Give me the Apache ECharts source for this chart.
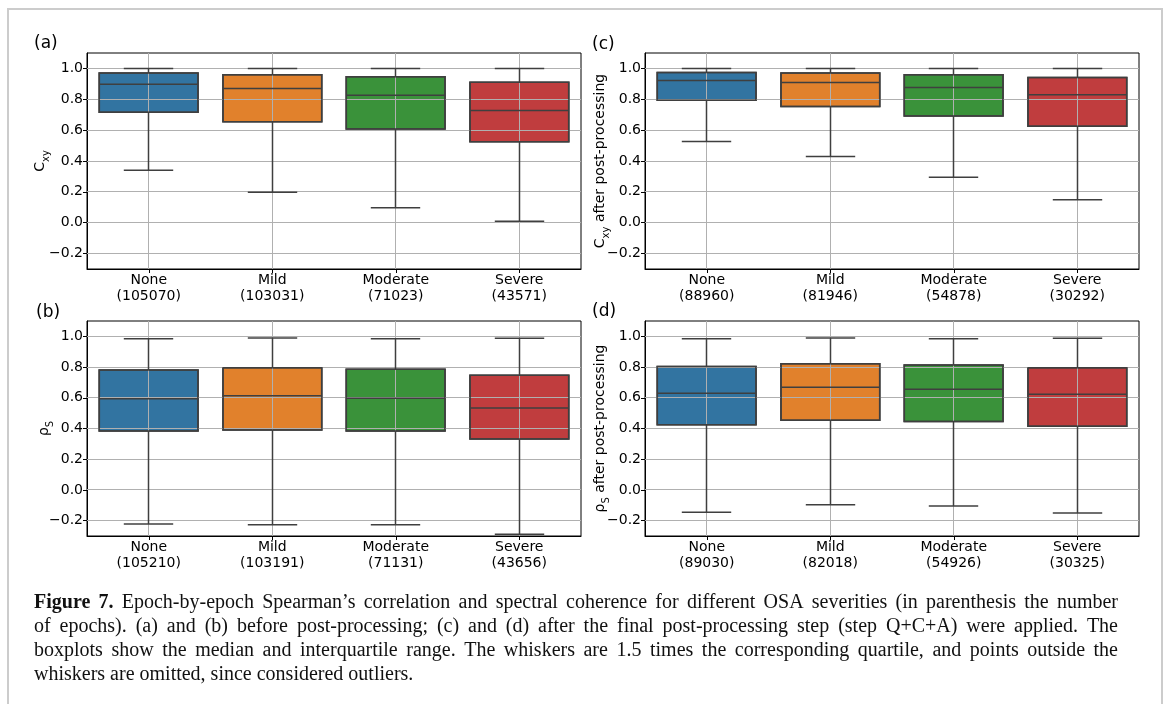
<!DOCTYPE html>
<html>
<head>
<meta charset="utf-8">
<title>Epoch-by-epoch correlation and coherence by OSA severity</title>
<script src="https://cdn.jsdelivr.net/npm/echarts@6/dist/echarts.min.js"></script>
<style>
  html, body { margin: 0; padding: 0; background: #fff; }
  #chart { width: 1167px; height: 704px; }
</style>
</head>
<body>
<div id="chart"></div>
<script>
// OSA severity groups
const categories = ['None', 'Mild', 'Moderate', 'Severe'];

// number of epochs per group
const countsA = [105070, 103031, 71023, 43571];
const countsB = [105210, 103191, 71131, 43656];
const countsC = [88960, 81946, 54878, 30292];
const countsD = [89030, 82018, 54926, 30325];

// box statistics per group: [lower whisker, Q1, median, Q3, upper whisker]
const cohBefore = [
  [0.340, 0.716, 0.898, 0.970, 1.000],
  [0.197, 0.655, 0.870, 0.959, 1.000],
  [0.097, 0.607, 0.826, 0.946, 1.000],
  [0.010, 0.525, 0.727, 0.911, 1.000]
];
const rhoBefore = [
  [-0.222, 0.383, 0.593, 0.781, 0.985],
  [-0.226, 0.391, 0.614, 0.796, 0.989],
  [-0.226, 0.383, 0.597, 0.786, 0.985],
  [-0.289, 0.331, 0.534, 0.747, 0.987]
];
const cohAfter = [
  [0.527, 0.794, 0.922, 0.974, 1.000],
  [0.429, 0.753, 0.909, 0.970, 1.000],
  [0.295, 0.692, 0.876, 0.959, 1.000],
  [0.149, 0.625, 0.829, 0.941, 1.000]
];
const rhoAfter = [
  [-0.146, 0.424, 0.630, 0.803, 0.985],
  [-0.096, 0.454, 0.669, 0.822, 0.989],
  [-0.105, 0.446, 0.656, 0.814, 0.985],
  [-0.150, 0.415, 0.623, 0.796, 0.987]
];

// shared value axis
const yMin = -0.3;
const yMax = 1.1;
const yTicks = [-0.2, 0.0, 0.2, 0.4, 0.6, 0.8, 1.0];

const boxColors = ['#3274a1', '#e1812c', '#3a923a', '#c03d3e'];
const edgeColor = '#3f3f3f';
const gridColor = '#b0b0b0';
const fontSans = 'DejaVu Sans';

const sub = { fontSize: 10, fontFamily: fontSans, color: '#000', lineHeight: 10, verticalAlign: 'bottom' };
const main = { fontSize: 14, fontFamily: fontSans, color: '#000', lineHeight: 22, verticalAlign: 'middle' };

const panels = [
  { tag: '(a)', tagPos: [34, 44], stats: cohBefore, counts: countsA,
    grid: { left: 87, top: 53, width: 494, height: 216 }, name: '{m|C}{s|xy}', nameGap: 36 },
  { tag: '(b)', tagPos: [36, 313], stats: rhoBefore, counts: countsB,
    grid: { left: 87, top: 321, width: 494, height: 215 }, name: '{m|ρ}{s|S}', nameGap: 32 },
  { tag: '(c)', tagPos: [592, 45], stats: cohAfter, counts: countsC,
    grid: { left: 645, top: 53, width: 494, height: 216 }, name: '{m|C}{s|xy}{m| after post-processing}', nameGap: 34 },
  { tag: '(d)', tagPos: [592, 312], stats: rhoAfter, counts: countsD,
    grid: { left: 645, top: 321, width: 494, height: 215 }, name: '{m|ρ}{s|S}{m| after post-processing}', nameGap: 34 }
];

const crisp = v => Math.round(v - 0.5) + 0.5;

// filled boxes (drawn beneath the grid lines)
function renderBox(params, api) {
  const i = api.value(0);
  const band = api.size([1, 0])[0];
  const w = band * 0.8;
  const cx = api.coord([i, api.value(3)])[0];
  const yQ3 = api.coord([i, api.value(4)])[1];
  const yQ1 = api.coord([i, api.value(2)])[1];
  return {
    type: 'rect',
    shape: { x: cx - w / 2, y: yQ3, width: w, height: yQ1 - yQ3 },
    style: { fill: boxColors[i], stroke: edgeColor, lineWidth: 1.5 }
  };
}

// whiskers, caps, median line and box outline (drawn above the grid lines)
function renderLines(params, api) {
  const i = api.value(0);
  const band = api.size([1, 0])[0];
  const w = band * 0.8;
  const cap = w / 2;
  const cx = crisp(api.coord([i, 0])[0]);
  const yLow = api.coord([i, api.value(1)])[1];
  const yQ1 = api.coord([i, api.value(2)])[1];
  const yMed = api.coord([i, api.value(3)])[1];
  const yQ3 = api.coord([i, api.value(4)])[1];
  const yHigh = api.coord([i, api.value(5)])[1];
  const st = { stroke: edgeColor, lineWidth: 1.5, fill: null };
  const seg = (x1, y1, x2, y2) => ({ type: 'line', shape: { x1, y1, x2, y2 }, style: st });
  return {
    type: 'group',
    children: [
      seg(cx, yQ3, cx, yHigh),
      seg(cx, yQ1, cx, yLow),
      seg(cx - cap / 2, yHigh, cx + cap / 2, yHigh),
      seg(cx - cap / 2, yLow, cx + cap / 2, yLow),
      seg(cx - w / 2, yMed, cx + w / 2, yMed),
      { type: 'rect', shape: { x: cx - w / 2, y: yQ3, width: w, height: yQ1 - yQ3 }, style: st }
    ]
  };
}

function renderHGrid(params, api) {
  const cs = params.coordSys;
  const y = crisp(api.coord([0, api.value(1)])[1]);
  return { type: 'line', shape: { x1: cs.x, y1: y, x2: cs.x + cs.width, y2: y },
           style: { stroke: gridColor, lineWidth: 1 } };
}

function renderVGrid(params, api) {
  const cs = params.coordSys;
  const x = crisp(api.coord([api.value(0), 0])[0]);
  return { type: 'line', shape: { x1: x, y1: cs.y, x2: x, y2: cs.y + cs.height },
           style: { stroke: gridColor, lineWidth: 1 } };
}

const fmtTick = v => (v < -1e-9 ? '\u2212' : '') + Math.abs(v).toFixed(1);

const grid = [], xAxis = [], yAxis = [], series = [];
panels.forEach((p, k) => {
  grid.push(Object.assign({ show: true, borderColor: '#000', borderWidth: 1, backgroundColor: '#fff' }, p.grid));
  xAxis.push({
    type: 'category', gridIndex: k, data: categories, boundaryGap: true,
    axisLine: { show: true, onZero: false, lineStyle: { color: '#000', width: 1 } },
    axisTick: { show: true, alignWithLabel: true, length: 4, lineStyle: { color: '#000' } },
    axisLabel: {
      interval: 0, margin: 3, fontSize: 14, fontFamily: fontSans, color: '#000', lineHeight: 16,
      formatter: (v, idx) => v + '\n(' + p.counts[idx] + ')'
    },
    splitLine: { show: false }
  });
  yAxis.push({
    type: 'value', gridIndex: k, min: yMin, max: yMax,
    axisLine: { show: true, onZero: false, lineStyle: { color: '#000', width: 1 } },
    axisTick: { show: true, length: 4, customValues: yTicks, lineStyle: { color: '#000' } },
    axisLabel: { customValues: yTicks, margin: 4, fontSize: 14, fontFamily: fontSans, color: '#000', formatter: fmtTick },
    splitLine: { show: false },
    name: p.name, nameLocation: 'middle', nameGap: p.nameGap, nameRotate: 90, nameMoveOverlap: false,
    nameTextStyle: { rich: { m: main, s: sub } }
  });
  const rows = p.stats.map((s, i) => [i].concat(s));
  series.push({
    type: 'custom', xAxisIndex: k, yAxisIndex: k, z: 2, silent: true,
    renderItem: renderBox, encode: { x: 0, y: [1, 2, 3, 4, 5] }, data: rows
  });
  series.push({
    type: 'custom', xAxisIndex: k, yAxisIndex: k, z: 3, silent: true,
    renderItem: renderHGrid, encode: { x: 0, y: 1 }, data: yTicks.map(v => [0, v])
  });
  series.push({
    type: 'custom', xAxisIndex: k, yAxisIndex: k, z: 3, silent: true,
    renderItem: renderVGrid, encode: { x: 0, y: 1 }, data: categories.map((c, i) => [i, 0])
  });
  series.push({
    type: 'custom', xAxisIndex: k, yAxisIndex: k, z: 4, silent: true,
    renderItem: renderLines, encode: { x: 0, y: [1, 2, 3, 4, 5] }, data: rows
  });
});

// caption text; the first line opens with a bold "Figure 7."
const captionLines = [
  'Figure 7. Epoch-by-epoch Spearman\u2019s correlation and spectral coherence for different OSA severities (in parenthesis the number',
  'of epochs). (a) and (b) before post-processing; (c) and (d) after the final post-processing step (step Q+C+A) were applied. The',
  'boxplots show the median and interquartile range. The whiskers are 1.5 times the corresponding quartile, and points outside the',
  'whiskers are omitted, since considered outliers.'
];
const captionBoldWords = 2;
const capFamily = '"Liberation Serif"';
const capSize = 20;
const capLeft = 34;
const capRight = 1118;
const capTop = 603;
const capLead = 24;

const measureCtx = document.createElement('canvas').getContext('2d');
const fontOf = bold => (bold ? 'bold ' : '') + capSize + 'px ' + capFamily;
function wordWidth(word, bold) {
  measureCtx.font = fontOf(bold);
  return measureCtx.measureText(word).width;
}

const graphic = [
  { type: 'rect', silent: true, z: 100, shape: { x: 8, y: 9, width: 1154, height: 720 },
    style: { fill: null, stroke: '#cccccc', lineWidth: 2 } }
];
panels.forEach(p => {
  graphic.push({ type: 'text', silent: true, x: p.tagPos[0], y: p.tagPos[1],
    style: { text: p.tag, font: '17px "DejaVu Sans"', fill: '#000', verticalAlign: 'middle' } });
});

// justified caption lines (last line left-aligned)
captionLines.forEach((line, li) => {
  const words = line.split(' ');
  const bolds = words.map((w, wi) => li === 0 && wi < captionBoldWords);
  const widths = words.map((w, wi) => wordWidth(w, bolds[wi]));
  const total = widths.reduce((a, b) => a + b, 0);
  const last = li === captionLines.length - 1;
  const gap = last ? wordWidth(' ', false) : (capRight - capLeft - total) / (words.length - 1);
  let x = capLeft;
  words.forEach((w, wi) => {
    graphic.push({
      type: 'text', silent: true, x: x, y: capTop + li * capLead,
      style: { text: w, font: fontOf(bolds[wi]), fill: '#111', verticalAlign: 'middle' }
    });
    x += widths[wi] + gap;
  });
});

const chart = echarts.init(document.getElementById('chart'), null, { renderer: 'canvas' });
chart.setOption({
  backgroundColor: '#fff',
  animation: false,
  grid, xAxis, yAxis, series, graphic
});
</script>
</body>
</html>
